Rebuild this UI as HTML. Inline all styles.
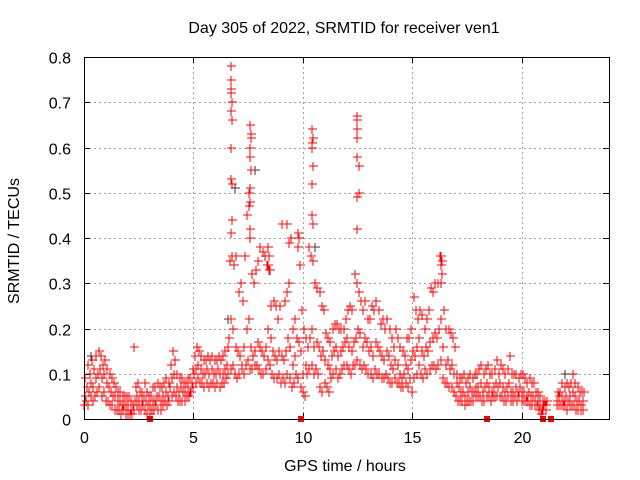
<!DOCTYPE html>
<html><head><meta charset="utf-8"><style>
body{margin:0;background:#fff}
svg{display:block;font-family:"Liberation Sans",sans-serif}
</style></head><body>
<svg id="chart" width="640" height="480" viewBox="0 0 640 480">
<rect width="640" height="480" fill="#fff"/>
<text x="344" y="33" font-size="16" text-anchor="middle">Day 305 of 2022, SRMTID for receiver ven1</text>
<text transform="translate(19,241) rotate(-90)" font-size="16" text-anchor="middle">SRMTID / TECUs</text>
<text x="345" y="471" font-size="16" text-anchor="middle">GPS time / hours</text>
<g id="grid"></g>
<g id="ticks"></g>
<g id="marks" shape-rendering="crispEdges"></g>
<rect x="84.5" y="57.5" width="525" height="362" fill="none" stroke="#000" stroke-width="1"/>
</svg>
<script>
const xTicks=[0,5,10,15,20];
const yTicks=[0,0.1,0.2,0.3,0.4,0.5,0.6,0.7,0.8];
const yTickLabels=["0","0.1","0.2","0.3","0.4","0.5","0.6","0.7","0.8"];
// band samples every 0.1 h from 0.0, in hundredths of TECU (null = no data)
const midVals=[5,7,6,8,7,9,10,11,9,10, 8,7,6,5,5,4,4,3,3,3, 3,2,3,4,5,4,4,5,4,3, 3,4,4,5,5,4,5,6,5,7, 9,10,7,6,7,6,6,7,6,8, 10,11,12,11,10,10,11,10,11,10, 10,11,10,10,11,12,18,22,20,16, 15,14,12,16,20,22,16,14,15,17, 16,15,14,16,20,18,15,14,13,15, 14,13,15,18,16,12,14,18,17,15, 10,12,16,18,20,16,17,16,14,15, 13,12,11,14,15,16,14,15,16,17, 18,16,15,17,18,20,19,16,18,17, 15,16,14,17,16,15,14,13,15,14, 12,11,13,12,10,9,10,12,11,13, 15,14,16,18,15,14,16,15,17,18, 19,18,20,22,16,12,13,11,12,10, 8,7,6,6,5,6,7,6,6,7, 7,8,6,7,8,7,6,7,8,7, 8,7,6,7,8,6,6,7,6,7, 6,6,5,6,5,5,4,4,3,2, 3,3,null,null,null,null,4,5,5,4, 5,4,5,6,5,4,4,3,4];
const loVals=[3,4,3,5,4,5,6,7,5,6, 4,4,3,3,2,2,2,1,2,1, 1,1,1,2,3,2,2,3,2,1, 1,2,2,3,2,2,3,4,3,4, 5,6,5,4,4,4,4,5,5,6, 7,8,9,8,8,7,8,7,8,8, 7,8,7,8,8,9,10,11,12,10, 9,10,11,10,12,13,11,11,12,12, 11,10,10,11,13,12,10,9,9,10, 8,9,8,10,9,7,8,10,9,7, 6,5,10,11,12,10,11,10,7,6, 8,7,6,9,10,11,9,10,11,12, 12,11,10,12,12,13,12,11,12,11, 10,10,9,11,10,10,9,9,10,9, 8,8,9,8,8,7,7,8,7,9, 6,9,10,12,10,9,11,10,11,12, 12,11,12,13,9,8,8,7,7,6, 5,4,4,4,3,4,4,4,4,5, 5,5,4,4,5,5,4,5,5,5, 5,5,4,4,5,4,4,5,4,5, 4,4,4,4,3,3,3,3,2,1, 2,2,null,null,null,null,3,3,3,3, 3,2,3,3,3,2,2,2,2];
const hiVals=[9,12,10,13,11,14,15,14,12,13, 11,10,9,8,7,6,6,5,5,5, 5,4,16,7,8,6,6,8,6,5, 5,7,7,8,7,7,8,9,8,12, 15,13,10,9,9,8,8,9,9,11, 14,16,15,14,13,13,14,13,14,13, 13,14,13,14,15,16,35,36,34,36, 28,30,26,36,45,40,32,30,33,35, 38,37,36,34,33,25,26,25,22,25, 43,26,28,30,40,20,22,38,34,24, 20,18,38,36,35,30,29,28,25,24, 19,18,17,20,21,21,20,20,20,22, 24,25,24,32,30,28,26,24,26,22, 22,25,24,26,24,21,22,20,22,20, 18,16,20,18,16,15,14,18,18,20, 27,24,22,24,23,20,22,24,29,28, 30,30,36,35,24,20,20,19,18,16, 10,9,9,10,8,9,10,9,10,10, 11,12,10,11,12,10,10,11,13,10, 12,11,10,11,14,10,10,10,9,10, 10,9,8,9,8,8,6,6,5,4, 4,4,null,null,null,null,6,6,8,7, 8,7,8,10,8,7,6,6,6];
const spikeTimes=[6.7,6.7,6.7,6.7,6.75,6.7,6.75,6.7,6.7,6.75,6.75,6.7, 7.6,7.65,7.65,7.6,7.6,7.65,7.6,7.55,7.6,7.55,7.6, 10.4,10.45,10.4,10.4,10.45,10.4,10.4,10.45, 12.5,12.5,12.5,12.5,12.5,12.55,12.5,12.55,12.5, 16.3,16.3,16.35,16.3, 9.3,9.35,9.8,9.85, 8.4,8.45,8.4,8.5];
const spikeVals=[0.78,0.75,0.73,0.72,0.70,0.68,0.66,0.60,0.53,0.52,0.44,0.41, 0.65,0.63,0.62,0.60,0.58,0.55,0.51,0.50,0.48,0.47,0.42, 0.64,0.62,0.61,0.60,0.56,0.52,0.45,0.43, 0.67,0.66,0.64,0.62,0.58,0.56,0.49,0.50,0.42, 0.36,0.34,0.32,0.30, 0.43,0.39,0.41,0.40, 0.38,0.36,0.34,0.33];
const darkTimes=[6.9,12.55,12.5,10.55,7.8,0.3,6.6,22.0,16.2];
const darkVals=[0.51,0.50,0.42,0.38,0.55,0.14,0.22,0.10,0.30];
const zeroTimes=[3.0,9.9,18.4,21.0,21.35];
const zeroVals=[0,0,0,0,0];

const X0=84,X1=609,Y0=419,Y1=57,XMAX=24,YMAX=0.8;
const xs=t=>X0+(X1-X0)*t/XMAX;
const ys=v=>Y0-(Y0-Y1)*v/YMAX;
const NS="http://www.w3.org/2000/svg";
function mk(tag,attrs,parent){const e=document.createElementNS(NS,tag);for(const k in attrs)e.setAttribute(k,attrs[k]);parent.appendChild(e);return e;}
const grid=document.getElementById('grid'),ticks=document.getElementById('ticks'),marks=document.getElementById('marks');
xTicks.forEach(t=>{const x=Math.round(xs(t))+0.5;
 if(t>0){const g=mk('line',{x1:x,y1:Y0,x2:x,y2:Y1,stroke:'#a0a0a0','stroke-dasharray':'2,3'},grid);
 
 }
 mk('line',{x1:x,y1:Y0,x2:x,y2:Y0-6,stroke:'#000'},ticks);
 mk('line',{x1:x,y1:Y1,x2:x,y2:Y1+6,stroke:'#000'},ticks);
 const l=mk('text',{x:x,y:Y0+24,'font-size':16,'text-anchor':'middle'},ticks);l.textContent=String(t);
 
 
});
yTicks.forEach((v,i)=>{const y=Math.round(ys(v))+0.5;
 if(i>0&&i<yTicks.length-1){const g=mk('line',{x1:X0,y1:y,x2:X1,y2:y,stroke:'#a0a0a0','stroke-dasharray':'2,3'},grid);
 
 }
 mk('line',{x1:X0,y1:y,x2:X0+6,y2:y,stroke:'#000'},ticks);
 mk('line',{x1:X1,y1:y,x2:X1-6,y2:y,stroke:'#000'},ticks);
 const l=mk('text',{x:X0-13,y:y+6,'font-size':16,'text-anchor':'end'},ticks);l.textContent=yTickLabels[i];
 
 
});
let d='';
function plus(t,v){const x=Math.round(xs(t)),y=Math.round(ys(v));d+=`M${x-4} ${y}h9M${x} ${y-4}v9`;}
[loVals,midVals,hiVals].forEach((arr,k)=>arr.forEach((v,i)=>{if(v!==null)plus(i*0.1+k*0.033,v/100);}));
spikeTimes.forEach((t,i)=>plus(t,spikeVals[i]));
let dd='';
darkTimes.forEach((t,i)=>{const x=Math.round(xs(t)),y=Math.round(ys(darkVals[i]));dd+=`M${x-4} ${y}h9M${x} ${y-4}v9`;});
const pd=mk('path',{d:dd,stroke:'#333',fill:'none','stroke-width':1},marks);


const pr=mk('path',{d:d,stroke:'#ff0000',fill:'none','stroke-width':1},marks);


zeroTimes.forEach((t,i)=>{const r=mk('rect',{x:Math.round(xs(t))-3,y:Math.round(ys(zeroVals[i]))-3,width:6,height:6,fill:'#ff0000'},marks);
 
 });
</script>
</body></html>
